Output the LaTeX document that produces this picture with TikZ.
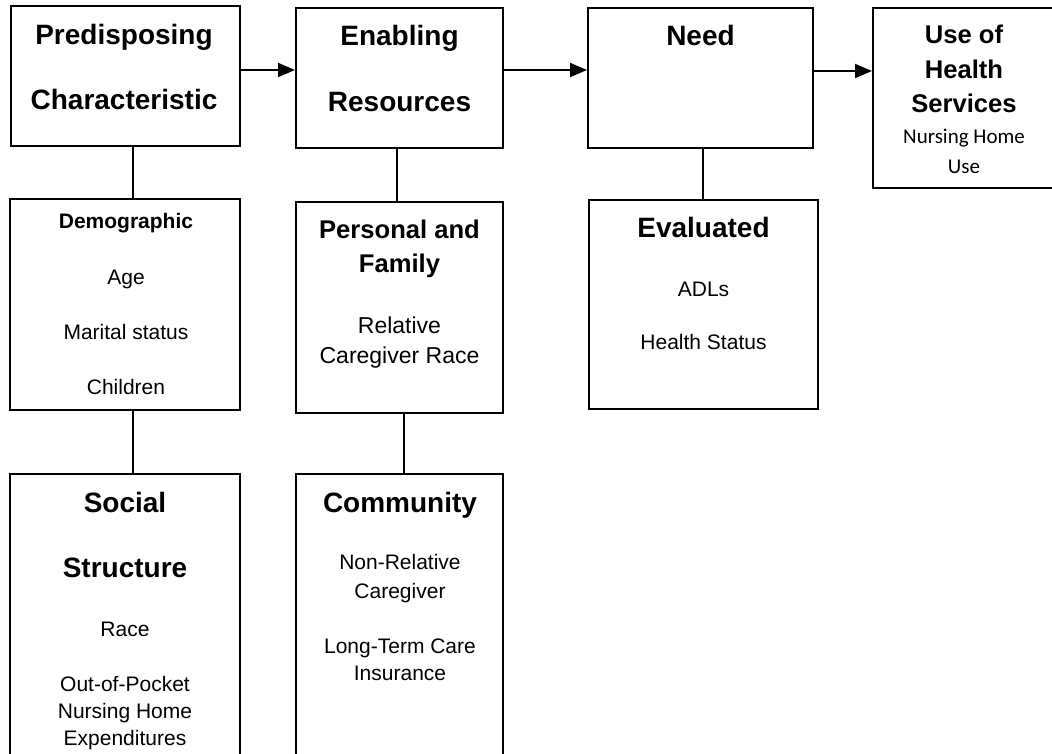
\documentclass[tikz,border=0pt]{standalone}
\usepackage{fontspec}
\setmainfont{Liberation Sans}
\newfontfamily\calfont{Carlito}
\usetikzlibrary{arrows.meta}
\tikzset{
  box/.style={draw=black, line width=2pt, rectangle, inner sep=0pt, fill=white},
  conn/.style={draw=black, line width=2pt},
  arr/.style={conn, -{Triangle[length=17pt,width=14pt]}},
  hd/.style={anchor=base, inner sep=0pt, font=\fontsize{28}{30}\selectfont\bfseries},
  hdm/.style={anchor=base, inner sep=0pt, font=\fontsize{25.6}{28}\selectfont\bfseries},
  hds/.style={anchor=base, inner sep=0pt, font=\fontsize{21}{24}\selectfont\bfseries},
  bd/.style={anchor=base, inner sep=0pt, font=\fontsize{21}{24}\selectfont},
  bdl/.style={anchor=base, inner sep=0pt, font=\fontsize{23}{26}\selectfont},
  cal/.style={anchor=base, inner sep=0pt, font=\fontsize{21}{24}\selectfont\calfont},
}
\begin{document}
\begin{tikzpicture}[x=1pt,y=-1pt]
\useasboundingbox (0,0) rectangle (1052,754);
\begin{scope}
\clip (0,0) rectangle (1052,754);
% top row
\node[box, minimum width=229pt, minimum height=140pt] (b1) at (125.5,76) {};
\node[box, minimum width=207pt, minimum height=140pt] (b2) at (399.5,78) {};
\node[box, minimum width=225pt, minimum height=140pt] (b3) at (700.5,78) {};
\node[box, minimum width=183pt, minimum height=180pt] (b4) at (964.5,98) {};
% middle row
\node[box, minimum width=230pt, minimum height=211pt] (demo) at (125,304.5) {};
\node[box, minimum width=207pt, minimum height=211pt] (pers) at (399.5,307.5) {};
\node[box, minimum width=229pt, minimum height=209pt] (eval) at (703.5,304.5) {};
% bottom row
\node[box, minimum width=230pt, minimum height=326pt] (soc) at (125,637) {};
\node[box, minimum width=207pt, minimum height=326pt] (comm) at (399.5,637) {};
\end{scope}
% helper coordinates
\coordinate (xa) at (133,0);
\coordinate (xb) at (397,0);
\coordinate (xc) at (404,0);
\coordinate (xd) at (703,0);
\coordinate (ya) at (0,70);
\coordinate (yb) at (0,71);
% arrows
\draw[arr] (b1.east |- ya) -- (b2.west |- ya);
\draw[arr] (b2.east |- ya) -- (b3.west |- ya);
\draw[arr] (b3.east |- yb) -- (b4.west |- yb);
% vertical connectors
\draw[conn] (b1.south -| xa) -- (demo.north -| xa);
\draw[conn] (demo.south -| xa) -- (soc.north -| xa);
\draw[conn] (b2.south -| xb) -- (pers.north -| xb);
\draw[conn] (pers.south -| xc) -- (comm.north -| xc);
\draw[conn] (b3.south -| xd) -- (eval.north -| xd);
% texts top row
\node[hd] (t1a) at (124,45) {Predisposing};
\node[hd] (t1b) at (124,110) {Characteristic};
\node[hd] (t2a) at (399.5,45.5) {Enabling};
\node[hd] (t2b) at (399.5,111.5) {Resources};
\node[hd] (t3a) at (700.5,45.5) {Need};
\node[hdm] (t4a) at (964,44) {Use of};
\node[hdm] (t4b) at (964,79) {Health};
\node[hdm] (t4c) at (964,113) {Services};
\node[cal] (t4d) at (964,144) {Nursing Home};
\node[cal] (t4e) at (964,174) {Use};
% middle row texts
\node[hds] (d1) at (126,229) {Demographic};
\node[bd] (d2) at (126,284) {Age};
\node[bd] (d3) at (126,339) {Marital status};
\node[bd] (d4) at (126,394) {Children};
\node[hdm] (p1) at (399.5,238) {Personal and};
\node[hdm] (p2) at (399.5,272) {Family};
\node[bdl] (p3) at (399.5,333) {Relative};
\node[bdl] (p4) at (399.5,363) {Caregiver Race};
\node[hd] (e1) at (703.5,237) {Evaluated};
\node[bd] (e2) at (703.5,296) {ADLs};
\node[bd] (e3) at (703.5,349) {Health Status};
% bottom row texts
\node[hd] (s1) at (125,512) {Social};
\node[hd] (s2) at (125,577) {Structure};
\node[bd] (s3) at (125,636) {Race};
\node[bd] (s4) at (125,691) {Out-of-Pocket};
\node[bd] (s5) at (125,718) {Nursing Home};
\node[bd] (s6) at (125,745) {Expenditures};
\node[hd] (c1) at (400,512) {Community};
\node[bd] (c2) at (400,569) {Non-Relative};
\node[bd] (c3) at (400,598) {Caregiver};
\node[bd] (c4) at (400,653) {Long-Term Care};
\node[bd] (c5) at (400,680) {Insurance};
\end{tikzpicture}
\end{document}
